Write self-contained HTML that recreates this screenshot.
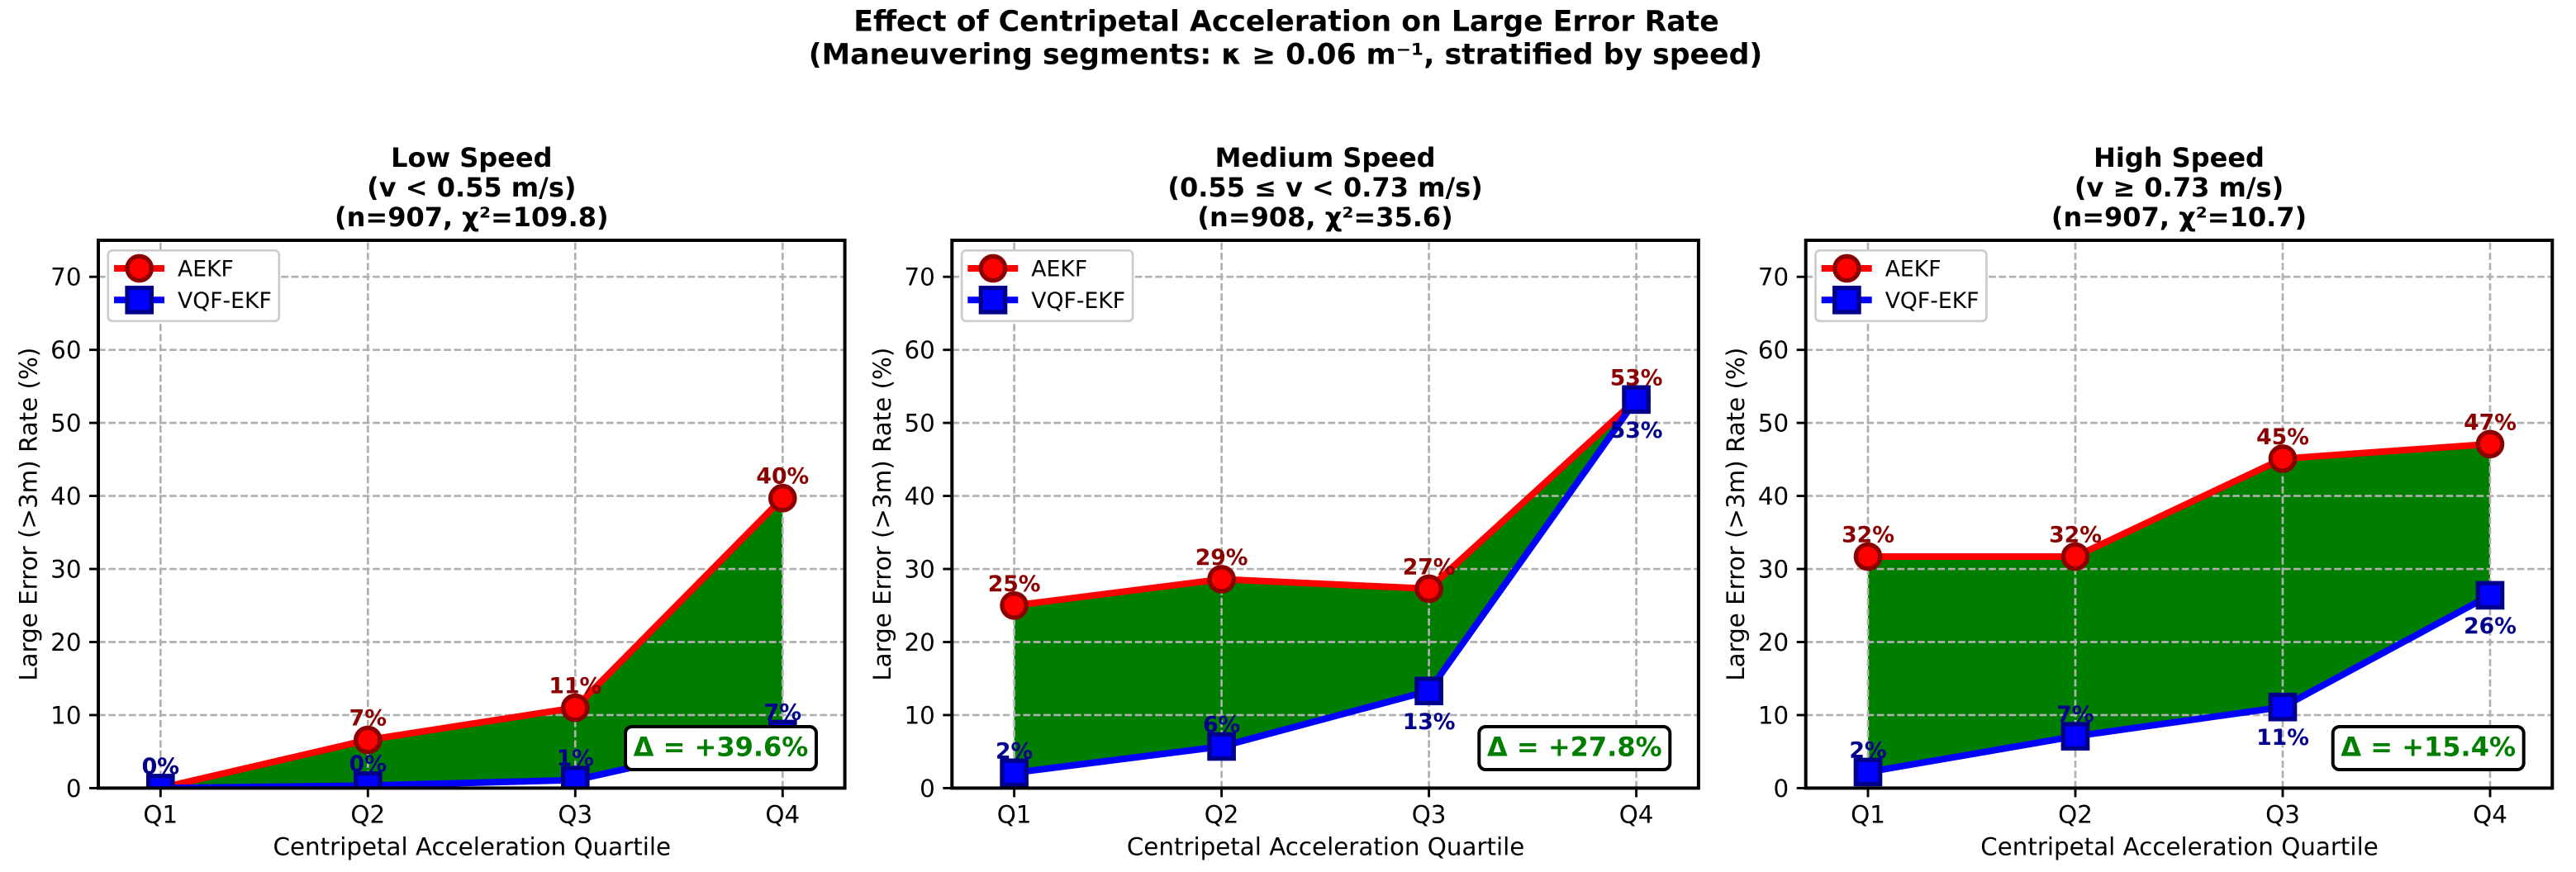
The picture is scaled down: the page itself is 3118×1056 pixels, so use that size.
<!DOCTYPE html>
<html lang="en">
<head>
<meta charset="utf-8">
<title>Effect of Centripetal Acceleration on Large Error Rate</title>
<style>
  html, body { margin: 0; padding: 0; background: #fff; }
  svg { display: block; }
  text { font-family: "DejaVu Sans", "Liberation Sans", sans-serif; fill: #000; }
</style>
</head>
<body>
<svg id="chart" xmlns="http://www.w3.org/2000/svg" width="3118" height="1056" viewBox="0 0 3118 1056">
  <rect x="0" y="0" width="3118" height="1056" fill="#ffffff"/>
  <text x="1557" y="37.3" text-anchor="middle" font-size="34.67" font-weight="bold">Effect of Centripetal Acceleration on Large Error Rate</text>
  <text x="1556" y="77.3" text-anchor="middle" font-size="34.67" font-weight="bold">(Maneuvering segments: κ ≥ 0.06 m⁻¹, stratified by speed)</text>
</svg>
<script>
const categories = ['Q1', 'Q2', 'Q3', 'Q4'];
const yTickValues = [0, 10, 20, 30, 40, 50, 60, 70];
const seriesNames = ['AEKF', 'VQF-EKF'];

const panelNames = ['low-speed', 'medium-speed', 'high-speed'];
const panelTitlesLine1 = ['Low Speed', 'Medium Speed', 'High Speed'];
const panelTitlesLine2 = ['(v < 0.55 m/s)', '(0.55 ≤ v < 0.73 m/s)', '(v ≥ 0.73 m/s)'];
const panelTitlesLine3 = ['(n=907, χ²=109.8)', '(n=908, χ²=35.6)', '(n=907, χ²=10.7)'];

const aekfLow = [0.0, 6.6, 11.0, 39.7];
const vqfLow = [0.0, 0.35, 1.1, 7.4];
const aekfMedium = [25.0, 28.6, 27.3, 53.2];
const vqfMedium = [2.1, 5.7, 13.3, 53.2];
const aekfHigh = [31.7, 31.7, 45.1, 47.1];
const vqfHigh = [2.2, 7.1, 11.1, 26.4];

const deltaLabels = ['Δ = +39.6%', 'Δ = +27.8%', 'Δ = +15.4%'];

const aekfSeries = [aekfLow, aekfMedium, aekfHigh];
const vqfSeries = [vqfLow, vqfMedium, vqfHigh];

const svg = document.getElementById('chart');
const NS = 'http://www.w3.org/2000/svg';

const axesLeft = [119, 1152.3, 2185.7];
const axesWidth = 903.6;
const axesTop = 291;
const axesBottom = 954.4;
const xMin = -0.3, xMax = 3.3, yMin = 0, yMax = 75;

function make(tag, attrs, parent) {
  const node = document.createElementNS(NS, tag);
  for (const key in attrs) node.setAttribute(key, attrs[key]);
  parent.appendChild(node);
  return node;
}
function xScale(panel, i) {
  return axesLeft[panel] + (i - xMin) / (xMax - xMin) * axesWidth;
}
function yScale(v) {
  return axesBottom - (v - yMin) / (yMax - yMin) * (axesBottom - axesTop);
}
function pointsFor(panel, values) {
  return values.map((v, i) => xScale(panel, i).toFixed(2) + ',' + yScale(v).toFixed(2));
}

const defs = make('defs', {}, svg);

function drawCircleMarker(parent, cx, cy) {
  return make('circle', { cx: cx, cy: cy, r: 14.65, fill: '#ff0000', stroke: '#8b0000', 'stroke-width': 5.33 }, parent);
}
function drawSquareMarker(parent, cx, cy) {
  return make('rect', { x: cx - 14.65, y: cy - 14.65, width: 29.3, height: 29.3, fill: '#0000ff', stroke: '#00008b', 'stroke-width': 5.33 }, parent);
}

axesRender();

function axesRender() {
  panelNames.forEach((name, p) => {
    const left = axesLeft[p];
    const right = left + axesWidth;
    const centerX = left + axesWidth / 2;
    const aekf = aekfSeries[p];
    const vqf = vqfSeries[p];

    const group = make('g', {}, svg);
    
    

    const clip = make('clipPath', { id: 'clip-' + p }, defs);
    make('rect', { x: left, y: axesTop, width: axesWidth, height: axesBottom - axesTop }, clip);

    const t1 = make('text', { x: centerX, y: 202, 'text-anchor': 'middle', 'font-size': 32, 'font-weight': 'bold' }, group);
    t1.textContent = panelTitlesLine1[p];
    
    
    const t2 = make('text', { x: centerX, y: 238, 'text-anchor': 'middle', 'font-size': 32, 'font-weight': 'bold' }, group);
    t2.textContent = panelTitlesLine2[p];
    
    
    const t3 = make('text', { x: centerX, y: 274, 'text-anchor': 'middle', 'font-size': 32, 'font-weight': 'bold' }, group);
    t3.textContent = panelTitlesLine3[p];
    
    

    const plot = make('g', { 'clip-path': 'url(#clip-' + p + ')' }, group);
    
    

    const upper = pointsFor(p, aekf);
    const lower = pointsFor(p, vqf).reverse();
    const fill = make('polygon', { points: upper.concat(lower).join(' '), fill: '#007e00' }, plot);
    
    

    yTickValues.forEach((v) => {
      const y = yScale(v);
      const gridLine = make('line', { x1: left, x2: right, y1: y, y2: y, stroke: '#b0b0b0', 'stroke-width': 2.67, 'stroke-dasharray': '8.7 3.6' }, plot);
      
      
    });
    categories.forEach((c, i) => {
      const x = xScale(p, i);
      const gridLine = make('line', { x1: x, x2: x, y1: axesBottom, y2: axesTop, stroke: '#b0b0b0', 'stroke-width': 2.67, 'stroke-dasharray': '8.7 3.6' }, plot);
      
      
    });

    const redLine = make('polyline', { points: pointsFor(p, aekf).join(' '), fill: 'none', stroke: '#ff0000', 'stroke-width': 8, 'stroke-linejoin': 'round' }, plot);
    
    
    aekf.forEach((v, i) => {
      const m = drawCircleMarker(plot, xScale(p, i), yScale(v));
      
      
    });

    const blueLine = make('polyline', { points: pointsFor(p, vqf).join(' '), fill: 'none', stroke: '#0000ff', 'stroke-width': 8, 'stroke-linejoin': 'round' }, plot);
    
    
    vqf.forEach((v, i) => {
      const m = drawSquareMarker(plot, xScale(p, i), yScale(v));
      
      
    });

    aekf.forEach((v, i) => {
      const lab = make('text', { x: xScale(p, i), y: yScale(v) - 17.5, 'text-anchor': 'middle', 'font-size': 26.67, 'font-weight': 'bold', style: 'fill:#8b0000' }, group);
      lab.textContent = Math.round(v) + '%';
      
      
    });
    vqf.forEach((v, i) => {
      const below = v > 10;
      const lab = make('text', { x: xScale(p, i), y: yScale(v) + (below ? 46 : -17.5), 'text-anchor': 'middle', 'font-size': 26.67, 'font-weight': 'bold', style: 'fill:#00008b' }, group);
      lab.textContent = Math.round(v) + '%';
      
      
    });

    const frame = make('rect', { x: left, y: axesTop, width: axesWidth, height: axesBottom - axesTop, fill: 'none', stroke: '#000', 'stroke-width': 4 }, group);
    
    

    yTickValues.forEach((v) => {
      const y = yScale(v);
      const tick = make('line', { x1: left - 11, x2: left, y1: y, y2: y, stroke: '#000', 'stroke-width': 2.9 }, group);
      
      
      const lab = make('text', { x: left - 20.5, y: y + 10.5, 'text-anchor': 'end', 'font-size': 29.33 }, group);
      lab.textContent = String(v);
      
      
    });
    categories.forEach((c, i) => {
      const x = xScale(p, i);
      const tick = make('line', { x1: x, x2: x, y1: axesBottom, y2: axesBottom + 11, stroke: '#000', 'stroke-width': 2.9 }, group);
      
      
      const lab = make('text', { x: x, y: 996.7, 'text-anchor': 'middle', 'font-size': 29.33 }, group);
      lab.textContent = c;
      
      
    });

    const xTitle = make('text', { x: centerX + 0.5, y: 1035.5, 'text-anchor': 'middle', 'font-size': 29.33 }, group);
    xTitle.textContent = 'Centripetal Acceleration Quartile';
    
    

    const yCenter = (axesTop + axesBottom) / 2;
    const yTitle = make('text', { x: 0, y: 0, 'text-anchor': 'middle', 'font-size': 29.33, transform: 'translate(' + (left - 74.5) + ' ' + yCenter + ') rotate(-90)' }, group);
    yTitle.textContent = 'Large Error (>3m) Rate (%)';
    
    

    const legend = make('g', {}, group);
    
    
    const legendBox = make('rect', { x: left + 11.8, y: 303.3, width: 207, height: 85.5, rx: 5.3, ry: 5.3, fill: '#ffffff', stroke: '#cccccc', 'stroke-width': 2.67 }, legend);
    
    

    const entry1 = make('g', {}, legend);
    
    
    make('line', { x1: left + 19, x2: left + 80, y1: 325, y2: 325, stroke: '#ff0000', 'stroke-width': 8 }, entry1);
    drawCircleMarker(entry1, left + 49.7, 325);
    const text1 = make('text', { x: left + 96, y: 334.7, 'font-size': 26.67 }, entry1);
    text1.textContent = seriesNames[0];

    const entry2 = make('g', {}, legend);
    
    
    make('line', { x1: left + 19, x2: left + 80, y1: 363.3, y2: 363.3, stroke: '#0000ff', 'stroke-width': 8 }, entry2);
    drawSquareMarker(entry2, left + 49.7, 363.3);
    const text2 = make('text', { x: left + 96, y: 373, 'font-size': 26.67 }, entry2);
    text2.textContent = seriesNames[1];

    const box = make('g', {}, group);
    
    
    make('rect', { x: left + 638, y: 880, width: 231, height: 52, rx: 8, ry: 8, fill: '#ffffff', stroke: '#000', 'stroke-width': 4 }, box);
    const deltaText = make('text', { x: left + 753.5, y: 915.7, 'text-anchor': 'middle', 'font-size': 32, 'font-weight': 'bold', style: 'fill:#007e00' }, box);
    deltaText.textContent = deltaLabels[p];
  });
}
</script>
</body>
</html>
